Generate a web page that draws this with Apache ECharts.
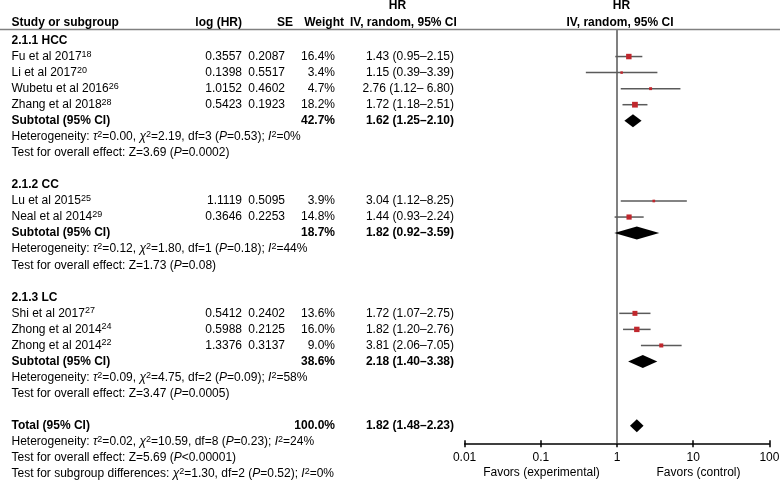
<!DOCTYPE html>
<html><head><meta charset="utf-8">
<script src="https://cdn.jsdelivr.net/npm/echarts@6/dist/echarts.min.js"></script>
<style>html,body{margin:0;padding:0;background:#fff}#main{width:780px;height:485px}</style>
</head><body><div id="main"></div>
<script>
// ---------------- data ----------------
const groupNames = ['2.1.1 HCC', '2.1.2 CC', '2.1.3 LC'];
const studyNames = ['Fu et al 2017', 'Li et al 2017', 'Wubetu et al 2016', 'Zhang et al 2018',
  'Lu et al 2015', 'Neal et al 2014', 'Shi et al 2017', 'Zhong et al 2014', 'Zhong et al 2014'];
const studyRefs = ['18', '20', '26', '28', '25', '29', '27', '24', '22'];
const studyGroup = [0, 0, 0, 0, 1, 1, 2, 2, 2];
const logHR = [0.3557, 0.1398, 1.0152, 0.5423, 1.1119, 0.3646, 0.5412, 0.5988, 1.3376];
const seLogHR = [0.2087, 0.5517, 0.4602, 0.1923, 0.5095, 0.2253, 0.2402, 0.2125, 0.3137];
const weightPct = [16.4, 3.4, 4.7, 18.2, 3.9, 14.8, 13.6, 16.0, 9.0];
const hr = [1.43, 1.15, 2.76, 1.72, 3.04, 1.44, 1.72, 1.82, 3.81];
const hrLow = [0.95, 0.39, 1.12, 1.18, 1.12, 0.93, 1.07, 1.20, 2.06];
const hrHigh = [2.15, 3.39, 6.80, 2.51, 8.25, 2.24, 2.75, 2.76, 7.05];
const ciDashSpace = [0, 0, 1, 0, 0, 0, 0, 0, 0];

const subWeight = [42.7, 18.7, 38.6];
const subHR = [1.62, 1.82, 2.18];
const subLow = [1.25, 0.92, 1.40];
const subHigh = [2.10, 3.59, 3.38];
const subTau2 = ['0.00', '0.12', '0.09'];
const subChi2 = ['2.19', '1.80', '4.75'];
const subDf = [3, 1, 2];
const subHetP = ['=0.53', '=0.18', '=0.09'];
const subI2 = [0, 44, 58];
const subZ = ['3.69', '1.73', '3.47'];
const subZP = ['=0.0002', '=0.08', '=0.0005'];

const totalStats = ['100.0', '1.82', '1.48', '2.23']; // weight, HR, low, high
const totalHet = ['0.02', '10.59', '8', '=0.23', '24'];  // tau2, chi2, df, P, I2
const totalEffect = ['5.69', '<0.00001'];
const subgroupDiff = ['1.30', '2', '=0.52', '0'];        // chi2, df, P, I2

const xTickLabels = ['0.01', '0.1', '1', '10', '100'];
const favorLabels = ['Favors (experimental)', 'Favors (control)'];
const headerLabels = ['Study or subgroup', 'log (HR)', 'SE', 'Weight', 'HR', 'IV, random, 95% CI'];

// ---------------- layout ----------------
const FONT = '"Liberation Sans", Arial, Helvetica, sans-serif';
const ROW0 = 40.5, ROWH = 16.05, TOP = 29.5, AXY = 443.3;
const GL = 464.6, GR = 769.4;
const NAME_X = 11.5, LOG_X = 242, SE_X = 285, W_X = 335, CI_X = 454;

const groupRow = [], studyRow = [], subRow = [], hetRow = [], testRow = [];
let r = 0;
groupNames.forEach((g, gi) => {
  groupRow[gi] = r++;
  studyGroup.forEach((sg, i) => { if (sg === gi) studyRow[i] = r++; });
  subRow[gi] = r++; hetRow[gi] = r++; testRow[gi] = r++; r++;
});
const totalRow = r, totalHetRow = r + 1, totalTestRow = r + 2, diffRow = r + 3;

const f2 = v => v.toFixed(2);
const texts = [];
function T(row, x, align, text, bold) { texts.push({ row, x, align, text, bold: !!bold }); }
function hetText(t2, c2, df, p, i2) {
  return 'Heterogeneity: {i|τ}{s|2}=' + t2 + ', {i|χ}{s|2}=' + c2 + ', df=' + df + ' ({i|P}' + p + '); {i|I}{s|2}=' + i2 + '%';
}
groupNames.forEach((g, gi) => {
  T(groupRow[gi], NAME_X, 'left', g, true);
  T(subRow[gi], NAME_X, 'left', 'Subtotal (95% CI)', true);
  T(subRow[gi], W_X, 'right', subWeight[gi].toFixed(1) + '%', true);
  T(subRow[gi], CI_X, 'right', f2(subHR[gi]) + ' (' + f2(subLow[gi]) + '–' + f2(subHigh[gi]) + ')', true);
  T(hetRow[gi], NAME_X, 'left', hetText(subTau2[gi], subChi2[gi], subDf[gi], subHetP[gi], subI2[gi]));
  T(testRow[gi], NAME_X, 'left', 'Test for overall effect: Z=' + subZ[gi] + ' ({i|P}' + subZP[gi] + ')');
});
studyNames.forEach((n, i) => {
  const row = studyRow[i];
  T(row, NAME_X, 'left', n + '{s|' + studyRefs[i] + '}');
  T(row, LOG_X, 'right', logHR[i].toFixed(4));
  T(row, SE_X, 'right', seLogHR[i].toFixed(4));
  T(row, W_X, 'right', weightPct[i].toFixed(1) + '%');
  T(row, CI_X, 'right', f2(hr[i]) + ' (' + f2(hrLow[i]) + '–' + (ciDashSpace[i] ? ' ' : '') + f2(hrHigh[i]) + ')');
});
T(totalRow, NAME_X, 'left', 'Total (95% CI)', true);
T(totalRow, W_X, 'right', totalStats[0] + '%', true);
T(totalRow, CI_X, 'right', totalStats[1] + ' (' + totalStats[2] + '–' + totalStats[3] + ')', true);
T(totalHetRow, NAME_X, 'left', hetText(totalHet[0], totalHet[1], totalHet[2], totalHet[3], totalHet[4]));
T(totalTestRow, NAME_X, 'left', 'Test for overall effect: Z=' + totalEffect[0] + ' ({i|P}' + totalEffect[1] + ')');
T(diffRow, NAME_X, 'left', 'Test for subgroup differences: {i|χ}{s|2}=' + subgroupDiff[0] + ', df=' + subgroupDiff[1] + ' ({i|P}' + subgroupDiff[2] + '); {i|I}{s|2}=' + subgroupDiff[3] + '%');

const rich = {
  s: { fontSize: 9, lineHeight: 9, verticalAlign: 'top', fontFamily: FONT, fill: '#000' },
  i: { fontSize: 12, lineHeight: 14, fontStyle: 'italic', fontFamily: FONT, fill: '#000' }
};

const ciData = studyNames.map((n, i) => [hrLow[i], studyRow[i], hrHigh[i]]);
const sqData = studyNames.map((n, i) => [hr[i], studyRow[i], weightPct[i]]);
const diaData = subHR.map((v, gi) => [subLow[gi], subRow[gi], subHigh[gi], v])
  .concat([[+totalStats[2], totalRow, +totalStats[3], +totalStats[1]]]);

const chart = echarts.init(document.getElementById('main'), null, { renderer: 'canvas' });
const yMin = (TOP - ROW0) / ROWH, yMax = (AXY - ROW0) / ROWH;
const logLabel = v => xTickLabels[Math.round(Math.log10(v)) + 2];

const txt = (x, y, text, bold, align) => ({
  type: 'text', x, y, silent: true,
  style: { text, fontSize: 12, fontFamily: FONT, fontWeight: bold ? 'bold' : 'normal', fill: '#000', align: align || 'center', verticalAlign: 'middle' }
});

chart.setOption({
  animation: false,
  backgroundColor: '#fff',
  grid: { left: GL, width: GR - GL, top: TOP, height: AXY - TOP, containLabel: false, outerBoundsMode: 'none' },
  xAxis: [{
    type: 'log', logBase: 10, min: 0.01, max: 100, position: 'bottom',
    axisLine: { show: true, onZero: false, lineStyle: { color: '#000', width: 1.5 } },
    axisTick: { show: true, length: 4, lineStyle: { color: '#000', width: 1.5 } },
    axisLabel: { fontSize: 12, fontFamily: FONT, color: '#000', margin: 8, formatter: logLabel },
    splitLine: { show: false }, minorTick: { show: false }
  }, {
    type: 'log', logBase: 10, min: 0.01, max: 100, position: 'bottom', gridIndex: 0, offset: 0,
    axisLine: { show: false, onZero: false },
    axisTick: { show: true, inside: true, length: 3, lineStyle: { color: '#000', width: 1.5 } },
    axisLabel: { show: false }, splitLine: { show: false }
  }],
  yAxis: { type: 'value', min: yMin, max: yMax, inverse: true, show: false },
  graphic: [
    { type: 'line', silent: true, shape: { x1: 0, y1: TOP, x2: 780, y2: TOP }, style: { stroke: '#808080', lineWidth: 1.6 } },
    txt(NAME_X, 22.7, headerLabels[0], true, 'left'),
    txt(LOG_X, 22.7, headerLabels[1], true, 'right'),
    txt(293, 22.7, headerLabels[2], true, 'right'),
    txt(344, 22.7, headerLabels[3], true, 'right'),
    txt(397.5, 5.5, headerLabels[4], true),
    txt(403.4, 22.7, headerLabels[5], true),
    txt(621.5, 5.5, headerLabels[4], true),
    txt(620, 22.7, headerLabels[5], true),
    txt(541.5, 472.7, favorLabels[0], false),
    txt(698.5, 472.7, favorLabels[1], false)
  ],
  series: [{
    type: 'custom', name: 'ci', coordinateSystem: 'cartesian2d', z: 3,
    data: ciData,
    renderItem: (p, api) => {
      const a = api.coord([api.value(0), api.value(1)]);
      const b = api.coord([api.value(2), api.value(1)]);
      return { type: 'line', shape: { x1: a[0], y1: a[1], x2: b[0], y2: b[1] }, style: { stroke: '#5a5a5a', lineWidth: 1.5 } };
    },
    markLine: {
      silent: true, symbol: 'none', z: 1, label: { show: false },
      lineStyle: { color: '#808080', width: 2, type: 'solid' },
      data: [{ xAxis: 1 }]
    }
  }, {
    type: 'custom', name: 'squares', coordinateSystem: 'cartesian2d', z: 4,
    data: sqData,
    renderItem: (p, api) => {
      const c = api.coord([api.value(0), api.value(1)]);
      const s = 1.35 * Math.sqrt(api.value(2));
      return { type: 'rect', shape: { x: c[0] - s / 2, y: c[1] - s / 2, width: s, height: s }, style: { fill: '#c0272d' } };
    }
  }, {
    type: 'custom', name: 'diamonds', coordinateSystem: 'cartesian2d', z: 4,
    data: diaData,
    renderItem: (p, api) => {
      const l = api.coord([api.value(0), api.value(1)]);
      const h = api.coord([api.value(2), api.value(1)]);
      const m = api.coord([api.value(3), api.value(1)]);
      const hh = 6.5;
      return { type: 'polygon', shape: { points: [[l[0], l[1]], [m[0], m[1] - hh], [h[0], h[1]], [m[0], m[1] + hh]] }, style: { fill: '#000' } };
    }
  }, {
    type: 'custom', name: 'table', coordinateSystem: 'cartesian2d', z: 5, silent: true,
    data: texts.map(t => [1, t.row]),
    renderItem: (p, api) => {
      const t = texts[p.dataIndex];
      const y = api.coord([1, api.value(1)])[1];
      return {
        type: 'text', x: t.x, y,
        style: {
          text: t.text, fontSize: 12, fontFamily: FONT, fontWeight: t.bold ? 'bold' : 'normal',
          fill: '#000', align: t.align, verticalAlign: 'middle', lineHeight: 14, rich
        }
      };
    }
  }]
});
</script></body></html>
